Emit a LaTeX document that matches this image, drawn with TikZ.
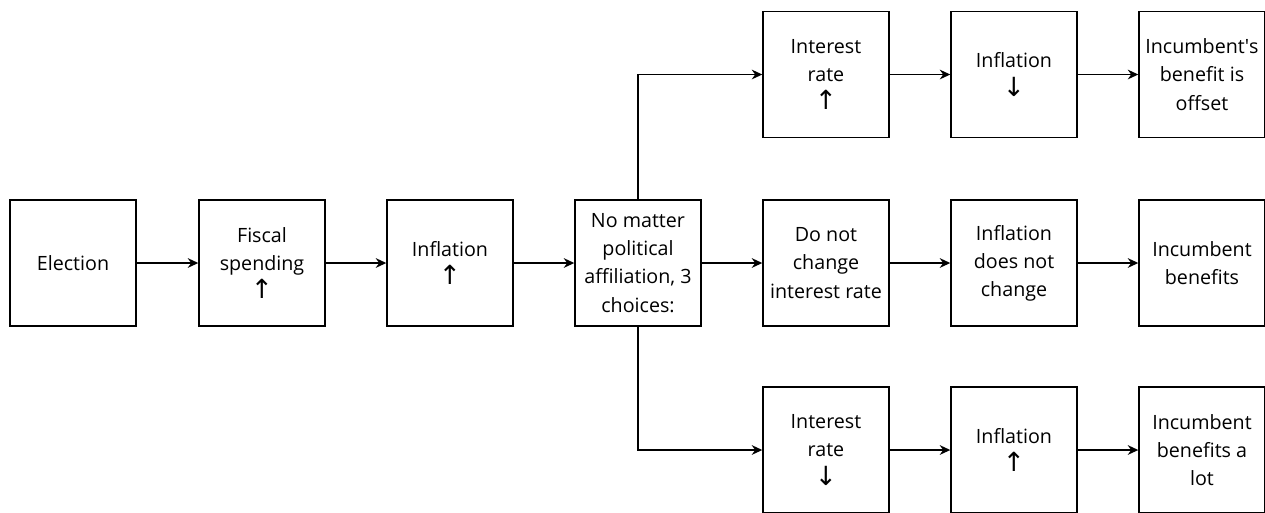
\documentclass[tikz,border=0pt]{standalone}
\usepackage{fontspec}
\setmainfont{Open Sans}
\newfontfamily\arrowfont{DejaVu Sans}
\newcommand{\goesup}{{\arrowfont\fontsize{15}{16}\selectfont ↑}}
\newcommand{\goesdown}{{\arrowfont\fontsize{15}{16}\selectfont ↓}}
\usetikzlibrary{arrows.meta}

\begin{document}
\begin{tikzpicture}[x=.02cm,y=-.02cm,font=\fontsize{11.2}{16}\selectfont]
\tikzset{box/.style={draw,line width=.8pt,minimum width=2.52cm,minimum height=2.52cm,inner sep=0pt,align=center},
  link/.style={line width=.9pt,-{Stealth[length=6pt,width=5.5pt]}}}
\useasboundingbox (0,0) rectangle (1265,512);

% middle row
\node[box] (elec) at (73,263) {Election};
\node[box] (fisc) at (262,263) {Fiscal\\spending\\\goesup};
\node[box] (infl) at (450,263) {Inflation\\\goesup};
\node[box] (choice) at (638,263) {No matter\\political\\affiliation, 3\\choices:};
\node[box] (keep) at (826,263) {Do not\\change\\interest rate};
\node[box] (keep_i) at (1014,263) {Inflation\\does not\\change};
\node[box] (keep_b) at (1202,263) {Incumbent\\benefits};

% top row
\node[box] (raise) at (826,74.5) {Interest\\rate\\\goesup};
\node[box] (raise_i) at (1014,74.5) {Inflation\\\goesdown};
\node[box] (raise_b) at (1202,74.5) {Incumbent\textquotesingle s\\benefit is\\offset};

% bottom row
\node[box] (cut) at (826,450) {Interest\\rate\\\goesdown};
\node[box] (cut_i) at (1014,450) {Inflation\\\goesup};
\node[box] (cut_b) at (1202,450) {Incumbent\\benefits a\\lot};

\draw[link] (elec) -- (fisc);
\draw[link] (fisc) -- (infl);
\draw[link] (infl) -- (choice);
\draw[link] (choice) -- (keep);
\draw[link] (choice.north) |- (raise);
\draw[link] (choice.south) |- (cut);

\draw[link] (raise) -- (raise_i);
\draw[link] (raise_i) -- (raise_b);
\draw[link] (keep) -- (keep_i);
\draw[link] (keep_i) -- (keep_b);
\draw[link] (cut) -- (cut_i);
\draw[link] (cut_i) -- (cut_b);

\end{tikzpicture}
\end{document}
